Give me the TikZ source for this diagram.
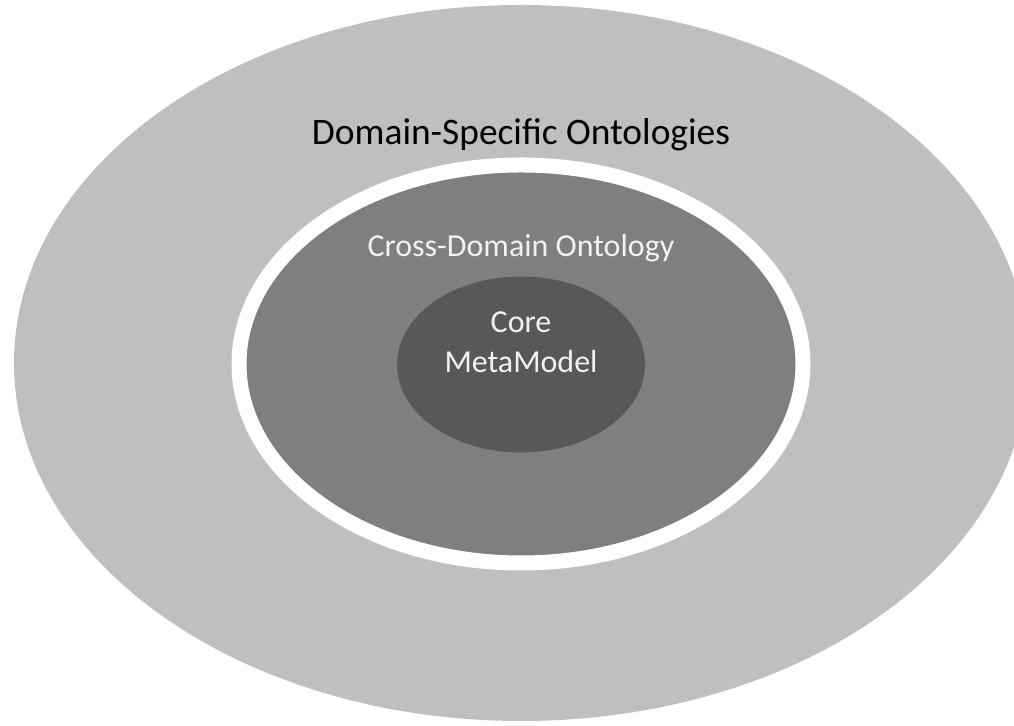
\documentclass[tikz,border=0pt]{standalone}
\usepackage{fontspec}
\setmainfont{Carlito}
\definecolor{outergray}{HTML}{BFBFBF}
\definecolor{midgray}{HTML}{7F7F7F}
\definecolor{coregray}{HTML}{585858}
\definecolor{lighttext}{HTML}{F2F2F2}
\begin{document}
\begin{tikzpicture}[x=0.2mm, y=0.2mm, label/.style={anchor=base, inner sep=0pt}]
%\draw[help lines, color=gray!30, dashed] (0,0) grid[step=50] (1014,726);
\useasboundingbox (0,0) rectangle (1014,726);
\clip (0,0) rectangle (1014,726);
\fill[color=outergray] (521,363) ellipse [x radius=507, y radius=358];
\filldraw[fill=midgray, draw=white, line width=3mm] (521,362) ellipse [x radius=282, y radius=199];
\fill[color=coregray] (521,361.5) ellipse [x radius=124, y radius=88];
\node[label, font=\fontsize{21.3}{25}\selectfont] (domain) at (521,581) {Domain-Specific Ontologies};
\node[label, text=lighttext, font=\fontsize{18.2}{22}\selectfont] (cross) at (521,469) {Cross-Domain Ontology};
\node[label, text=lighttext, font=\fontsize{18.2}{22}\selectfont] (core) at (521,393) {Core};
\node[label, text=lighttext, font=\fontsize{18.2}{22}\selectfont] (meta) at (521,353) {MetaModel};
\end{tikzpicture}
\end{document}
